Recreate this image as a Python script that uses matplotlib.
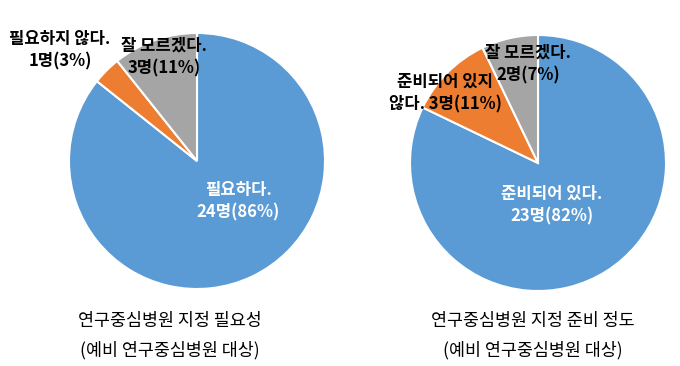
import matplotlib.pyplot as plt

plt.rcParams['font.family'] = ['Noto Sans CJK KR', 'DejaVu Sans']

colors = ['#5B9BD5', '#ED7D31', '#A5A5A5']

# 연구중심병원 지정 필요성
need_labels = ['필요하다.\n24명(86%)', '필요하지 않다.\n1명(3%)', '잘 모르겠다.\n3명(11%)']
need_values = [24, 1, 3]

# 연구중심병원 지정 준비 정도
ready_labels = ['준비되어 있다.\n23명(82%)', '준비되어 있지\n않다. 3명(11%)', '잘 모르겠다.\n2명(7%)']
ready_values = [23, 3, 2]

W, H = 680, 366
fig = plt.figure(figsize=(6.8, 3.66), dpi=100)


def px(x, y):
    return x / W, 1 - y / H


def draw_pie(cx, cy, r, values, labels, label_pos, title, subtitle, title_x):
    ax = fig.add_axes([(cx - r) / W, 1 - (cy + r) / H, 2 * r / W, 2 * r / H])
    ax.pie(values, colors=colors, startangle=90, counterclock=False,
           wedgeprops=dict(edgecolor='white', linewidth=1.5))
    ax.set_xlim(-1, 1)
    ax.set_ylim(-1, 1)
    ax.axis('off')
    for i, (lx, ly) in enumerate(label_pos):
        fig.text(*px(lx, ly), labels[i], ha='center', va='center',
                 fontsize=12, fontweight='bold', linespacing=1.35,
                 color='white' if i == 0 else 'black')
    fig.text(*px(title_x, 321), title, ha='center', va='center', fontsize=12.5)
    fig.text(*px(title_x, 350), subtitle, ha='center', va='center', fontsize=12.5)


draw_pie(197, 161, 128, need_values, need_labels,
         [(238, 201), (60, 50), (164, 57)],
         '연구중심병원 지정 필요성', '(예비 연구중심병원 대상)', 170)
draw_pie(538, 163, 128, ready_values, ready_labels,
         [(552, 205), (445, 93), (528, 64)],
         '연구중심병원 지정 준비 정도', '(예비 연구중심병원 대상)', 533)

fig.savefig('out.png', dpi=100)
